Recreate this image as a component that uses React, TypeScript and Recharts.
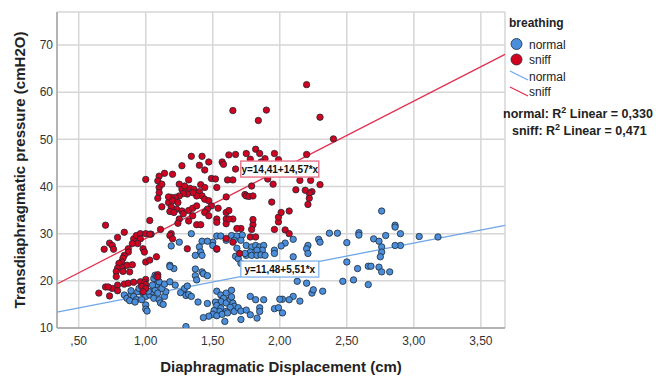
import { ScatterChart, Scatter, XAxis, YAxis, CartesianGrid, ReferenceLine, ReferenceDot } from "recharts"

// [displacement cm, pressure cmH2O]
const sniff: [number, number][] = [
  [2.20, 61.6], [1.65, 56.1], [1.90, 56.2], [1.84, 54.0], [2.30, 54.7], [2.40, 50.1], [2.20, 46.8],
  [1.42, 46.4], [1.34, 46.4], [1.62, 46.7], [1.67, 46.8], [1.75, 47.0], [1.82, 47.9], [1.85, 47.0], [1.89, 45.9], [1.96, 47.0], [1.99, 45.7],
  [1.27, 44.4], [1.40, 44.5], [1.44, 43.5], [1.47, 45.2], [1.57, 45.2], [1.58, 44.7], [1.67, 43.7], [1.78, 45.8], [1.86, 45.2], [1.91, 41.6], [1.95, 40.5],
  [1.49, 41.7], [1.52, 41.6], [1.61, 41.4], [1.65, 41.4], [1.00, 41.5], [1.10, 42.2], [1.14, 42.8], [1.20, 42.6], [1.09, 41.2], [1.32, 41.4], [1.25, 40.5],
  [2.15, 41.3], [2.23, 41.3], [2.30, 40.4], [2.24, 38.9], [2.22, 38.6], [2.22, 37.5], [2.21, 36.2], [2.12, 39.3], [2.19, 39.2], [1.94, 36.7],
  [1.79, 40.1], [1.74, 38.3], [1.75, 38.0], [1.77, 37.9], [1.80, 38.0], [1.53, 39.8], [1.41, 40.4], [1.44, 39.8], [1.60, 37.8],
  [1.27, 39.4], [1.30, 39.1], [1.33, 39.6], [1.36, 39.4], [1.40, 38.9], [1.42, 38.0], [1.38, 38.0], [1.35, 38.7], [1.31, 38.4], [1.28, 38.5],
  [1.29, 40.1], [1.25, 38.0], [1.22, 37.7], [1.19, 37.7], [1.17, 36.6], [1.20, 37.0], [1.24, 36.6], [1.23, 35.2], [1.27, 34.8], [1.28, 34.2],
  [1.32, 34.9], [1.35, 35.4], [1.35, 33.8], [1.38, 35.9], [1.44, 37.3], [1.47, 37.0], [1.49, 35.9], [1.46, 35.2], [1.44, 34.5], [1.47, 33.8],
  [1.54, 35.4], [1.53, 33.1], [1.53, 32.4], [1.60, 34.5], [1.60, 33.1], [1.60, 32.1], [1.62, 34.9], [1.03, 32.8],
  [1.10, 39.8], [1.10, 38.7], [1.09, 37.5], [1.12, 40.5], [1.12, 35.7], [1.17, 37.8], [1.19, 35.7], [1.18, 34.7], [1.21, 34.5], [1.25, 33.1],
  [1.24, 32.2], [1.32, 32.7], [1.38, 31.9], [1.41, 31.9], [1.11, 30.9], [0.70, 31.8],
  [0.73, 28.0], [0.75, 27.5], [0.76, 26.7], [0.69, 26.7], [0.79, 29.2], [0.84, 30.3], [0.91, 28.9], [0.93, 29.6], [0.96, 30.0], [1.00, 30.0],
  [1.04, 29.9], [0.96, 28.9], [0.94, 27.9], [0.98, 26.8], [0.99, 26.1], [0.90, 27.9], [0.87, 26.8], [0.87, 26.1], [0.84, 25.4], [0.83, 24.8],
  [0.82, 24.0], [0.80, 23.7], [0.79, 22.7], [0.83, 22.8], [0.86, 23.3], [0.90, 23.4], [0.78, 22.0], [0.83, 22.0], [0.88, 21.9], [0.78, 20.9],
  [1.00, 24.0], [1.03, 24.4], [1.08, 25.1], [1.00, 20.3],
  [0.65, 17.4], [0.73, 16.8], [0.70, 18.7], [0.75, 18.4], [0.79, 19.1], [0.79, 17.9], [0.84, 19.3], [0.87, 19.5], [0.91, 19.7], [0.96, 19.8],
  [0.99, 19.6], [1.00, 19.2], [0.97, 18.8], [1.00, 18.4], [0.98, 17.7], [1.09, 21.3], [1.09, 20.8], [0.72, 18.7],
  [1.31, 26.8], [1.53, 26.8], [1.70, 25.8], [1.78, 29.3], [1.82, 29.3], [1.80, 31.9], [1.79, 30.9], [1.80, 33.0], [1.71, 31.1], [1.68, 31.1],
  [1.96, 30.9], [1.99, 32.5], [1.99, 33.5], [2.01, 34.5], [2.07, 34.8], [2.04, 30.8], [2.07, 30.0], [1.60, 29.0], [1.65, 28.2], [1.65, 33.1],
  [1.62, 33.1], [1.19, 30.0], [1.18, 29.6], [1.20, 28.9], [1.03, 29.9],
]

const normal: [number, number][] = [
  [3.18, 29.3], [3.04, 29.4], [2.90, 30.0], [2.86, 31.8], [2.86, 31.4], [2.79, 29.6], [2.76, 34.8], [2.70, 28.9], [2.74, 28.4], [2.76, 27.2],
  [2.76, 26.1], [2.75, 25.1], [2.90, 27.5], [2.86, 27.5], [2.74, 22.9], [2.76, 21.9], [2.82, 21.9], [2.66, 23.1], [2.68, 23.1], [2.66, 19.2],
  [2.59, 30.2], [2.59, 29.7], [2.50, 28.1], [2.50, 24.0], [2.58, 22.6], [2.55, 20.2], [2.47, 19.9], [2.43, 30.1], [2.37, 30.1], [2.29, 28.8],
  [2.30, 28.2], [2.21, 27.5], [2.20, 26.8], [2.21, 25.8], [2.10, 28.8], [2.04, 28.0], [2.01, 27.4], [1.96, 26.5], [2.10, 25.1], [2.13, 19.9],
  [2.20, 19.5], [2.24, 17.4], [2.25, 18.1], [2.32, 17.8], [2.15, 15.7], [2.10, 16.7], [2.07, 16.0], [2.02, 16.1], [2.00, 16.1], [1.96, 14.1],
  [1.99, 14.3], [2.02, 13.2],
  [1.64, 29.6], [1.68, 29.5], [1.72, 29.7], [1.66, 28.6], [1.71, 28.6], [1.75, 27.5], [1.79, 27.2], [1.82, 27.5], [1.85, 27.2], [1.88, 27.5],
  [1.87, 26.5], [1.83, 26.5], [1.78, 26.1], [1.75, 25.4], [1.79, 25.4], [1.83, 25.4], [1.86, 25.5], [1.89, 25.4], [1.68, 26.9], [1.67, 25.2],
  [1.69, 24.7], [1.71, 23.7], [1.74, 25.8], [1.96, 25.8], [1.53, 29.5], [1.56, 29.5], [1.60, 28.6], [1.50, 28.2], [1.50, 27.5], [1.34, 30.0],
  [1.42, 28.4], [1.46, 28.4], [1.40, 27.2], [1.41, 26.1], [1.37, 25.4], [1.42, 25.4], [1.53, 26.7], [1.42, 21.9], [1.37, 22.5], [1.37, 21.1],
  [1.43, 21.5], [1.46, 21.1], [1.38, 20.2], [1.19, 27.4], [1.18, 23.3], [1.21, 22.6], [1.25, 28.2],
  [0.84, 17.0], [0.86, 16.3], [0.89, 17.1], [0.91, 16.7], [0.93, 16.0], [0.89, 17.9], [0.94, 17.7], [0.98, 17.4], [1.00, 16.7], [0.97, 16.0],
  [1.00, 14.9], [1.00, 14.0], [1.01, 13.6], [1.03, 17.0], [1.05, 17.7], [1.07, 18.1], [1.09, 17.4], [1.06, 16.3], [1.10, 16.0], [1.11, 15.3],
  [1.14, 16.7], [1.15, 17.7], [1.12, 18.4], [1.08, 19.2], [1.06, 20.5], [1.07, 21.2], [1.05, 19.1], [1.10, 19.8], [1.14, 19.3], [1.18, 19.8],
  [1.22, 19.1], [1.28, 17.7], [1.26, 17.5], [1.30, 16.9], [1.32, 17.1], [1.29, 18.4], [1.31, 18.9], [1.02, 17.8], [0.95, 18.4], [1.18, 23.0],
  [1.08, 21.0], [0.88, 15.8], [0.92, 15.5], [1.13, 15.0],
  [1.53, 17.8], [1.56, 17.0], [1.60, 17.4], [1.64, 18.0], [1.58, 16.3], [1.56, 15.6], [1.52, 15.5], [1.53, 14.8], [1.56, 14.2], [1.60, 15.3],
  [1.63, 16.1], [1.65, 15.3], [1.66, 14.6], [1.63, 14.4], [1.60, 13.5], [1.55, 13.5], [1.51, 13.7], [1.50, 12.9], [1.53, 12.6], [1.57, 12.9],
  [1.61, 13.2], [1.66, 13.5], [1.69, 14.3], [1.71, 13.6], [1.64, 16.6], [1.59, 11.4], [1.71, 11.8], [1.47, 12.5], [1.43, 12.2], [1.46, 15.2],
  [1.39, 15.5], [1.30, 10.3], [1.75, 13.8], [1.78, 16.7], [1.82, 16.0], [1.85, 14.3], [1.85, 13.5], [1.88, 16.0], [1.78, 12.8], [1.83, 12.1],
  [1.34, 16.7],
]

const xTicks = [0.5, 1, 1.5, 2, 2.5, 3, 3.5]
const yTicks = [10, 20, 30, 40, 50, 60, 70]
const xDomain: [number, number] = [0.338, 3.68]
const yDomain: [number, number] = [10, 77]

// fit lines: intercept, slope
const sniffFit = [14.41, 14.57]
const normalFit = [11.48, 5.51]

const BLUE = "#4b8fdc"
const RED = "#d0021f"
const BLUE_LINE = "#6fa6e6"
const RED_LINE = "#e2304e"
const FONT = "'Liberation Sans', Arial, sans-serif"

const toRows = (pts: [number, number][]) => pts.map(([x, y]) => ({ x, y }))
const fmtX = (v: number) => v.toFixed(2).replace(".", ",").replace(/^0/, "")

const dot = (fill: string) => (p: any) => (
  <circle cx={p.cx} cy={p.cy} r={3.2} fill={fill} stroke="#1e2a36" strokeWidth={0.8} />
)

const fitSegment = (f: number[]) => [
  { x: xDomain[0], y: f[0] + f[1] * xDomain[0] },
  { x: xDomain[1], y: f[0] + f[1] * xDomain[1] },
]

const eqBox = (text: string, color: string) => (p: any) => (
  <g>
    <rect x={p.cx - 39} y={p.cy - 8} width={78} height={16} fill="#fff" stroke={color} strokeWidth={1.4} />
    <text x={p.cx} y={p.cy + 3.5} textAnchor="middle" fontSize={10} fontWeight="bold" fill="#111" fontFamily={FONT}>
      {text}
    </text>
  </g>
)

export default function App() {
  return (
    <div style={{ position: "absolute", left: 0, top: 0, width: 656, height: 376, background: "#fff", fontFamily: FONT }}>
      <ScatterChart width={656} height={376} margin={{ top: 12, right: 151, bottom: 0, left: 0 }}>
        <CartesianGrid stroke="#d6d6d6" strokeWidth={1.5} />
        <XAxis
          type="number"
          dataKey="x"
          domain={xDomain}
          ticks={xTicks}
          tickFormatter={fmtX}
          allowDataOverflow
          height={48}
          tickLine={false}
          stroke="#a6a6a6"
          strokeWidth={1.5}
          tick={{ fill: "#333", fontSize: 12, fontFamily: FONT }}
        />
        <YAxis
          type="number"
          dataKey="y"
          domain={yDomain}
          ticks={yTicks}
          allowDataOverflow
          width={57}
          tickLine={false}
          tickSize={2}
          tickMargin={2}
          stroke="#a6a6a6"
          strokeWidth={1.5}
          tick={{ fill: "#333", fontSize: 12, fontFamily: FONT }}
        />
        <Scatter name="normal" data={toRows(normal)} shape={dot(BLUE)} isAnimationActive={false} />
        <Scatter name="sniff" data={toRows(sniff)} shape={dot(RED)} isAnimationActive={false} />
        <ReferenceLine segment={fitSegment(sniffFit)} stroke={RED_LINE} strokeWidth={1.3} />
        <ReferenceLine segment={fitSegment(normalFit)} stroke={BLUE_LINE} strokeWidth={1.3} />
        <ReferenceDot x={2.0} y={43.7} r={0} shape={eqBox("y=14,41+14,57*x", "#e8738a")} />
        <ReferenceDot x={2.0} y={22.5} r={0} shape={eqBox("y=11,48+5,51*x", "#8ab8ec")} />
      </ScatterChart>

      <svg width={656} height={376} style={{ position: "absolute", left: 0, top: 0, pointerEvents: "none", overflow: "visible" }}>
        <text transform="translate(24.5,170) rotate(-90)" textAnchor="middle" fontSize={15} fontWeight="bold" fill="#222" fontFamily={FONT}>
          Transdiaphragmatic pressure (cmH2O)
        </text>
        <text x={281} y={372} textAnchor="middle" fontSize={15} fontWeight="bold" fill="#222" fontFamily={FONT}>
          Diaphragmatic Displacement (cm)
        </text>

        <g fontFamily={FONT} fontSize={12} fill="#222">
          <text x={509} y={27} fontWeight="bold">breathing</text>
          <circle cx={516.5} cy={44} r={5.5} fill={BLUE} stroke="#1e2a36" strokeWidth={0.8} />
          <text x={529} y={48.5}>normal</text>
          <circle cx={516.5} cy={59.5} r={5.5} fill={RED} stroke="#1e2a36" strokeWidth={0.8} />
          <text x={529} y={64}>sniff</text>
          <line x1={510} y1={71} x2={528} y2={80} stroke={BLUE_LINE} strokeWidth={1.3} />
          <text x={529} y={81}>normal</text>
          <line x1={510} y1={87} x2={528} y2={96} stroke={RED_LINE} strokeWidth={1.3} />
          <text x={529} y={96}>sniff</text>
          <text x={503} y={118} fontWeight="bold" fontSize={12.5}>
            normal: R<tspan dy={-5} fontSize={9}>2</tspan><tspan dy={5}> Linear = 0,330</tspan>
          </text>
          <text x={512} y={135} fontWeight="bold" fontSize={12.5}>
            sniff: R<tspan dy={-5} fontSize={9}>2</tspan><tspan dy={5}> Linear = 0,471</tspan>
          </text>
        </g>
      </svg>
    </div>
  )
}
